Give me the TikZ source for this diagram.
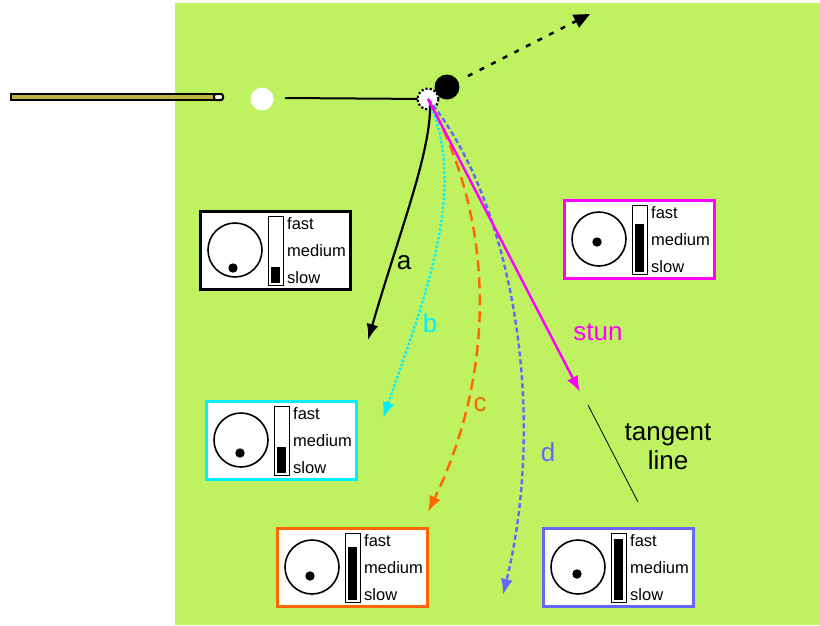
\documentclass[tikz,border=0pt]{standalone}
\usepackage{fontspec}
\setmainfont{Liberation Sans}
\usetikzlibrary{arrows.meta}
\definecolor{felt}{RGB}{190,242,96}
\definecolor{cue}{RGB}{190,178,62}
\definecolor{cyanb}{RGB}{0,240,255}
\definecolor{orangeb}{RGB}{255,102,0}
\definecolor{blueb}{RGB}{102,102,255}
\definecolor{magb}{RGB}{255,0,255}
\tikzset{
  lbl/.style={font=\fontsize{26}{28}\selectfont, inner sep=0pt},
  small/.style={font=\fontsize{16.5}{17}\selectfont, inner sep=0pt, anchor=west},
  tip/.style={-{Latex[length=16pt,width=12pt]}},
}
\newcommand\spinbox[6]{%
  \begin{scope}[shift={(#1,#2)}]
    \node[draw=#3, line width=2.5pt, fill=white, minimum width=150pt, minimum height=78pt, anchor=north west, inner sep=0pt] (#6) at (0,0) {};
    \draw[line width=1.6pt] (36,40) circle (27pt);
    \fill (#4) circle (4.7pt);
    \draw[line width=0.8pt, fill=white] (69,6) rectangle (84,75);
    \fill (72,#5) rectangle (81,73);
    \node[small] at (88,14) {fast};
    \node[small] at (88,41) {medium};
    \node[small] at (88,68) {slow};
  \end{scope}}
\begin{document}
\begin{tikzpicture}[x=1pt,y=-1pt]
\useasboundingbox (0,0) rectangle (820,625);
\fill[felt] (175,3) rectangle (820,625);
% cue
\draw[line width=2pt, fill=cue] (11,94) rectangle (214,100);
\draw[line width=2pt, fill=white, rounded corners=2pt] (214,94) -- (223,94) -- (223,100) -- (214,100) -- cycle;
\node[circle, fill=white, minimum size=23pt, inner sep=0pt] (cb) at (262,99) {};
\node[circle, fill=black, minimum size=25pt, inner sep=0pt] (ob) at (447,87) {};
\coordinate (g) at (428,99);
\draw[line width=2pt] (285,98) -- (g);
\node[circle, draw, dotted, line width=2.2pt, fill=white, minimum size=21pt, inner sep=0pt] (gh) at (g) {};
\coordinate (obend) at (590,14);
\draw[line width=2.5pt, dash pattern=on 5pt off 8pt, -{Triangle[length=16pt,width=14pt]}] (468,76) -- (obend);
% paths
\coordinate (ea) at (368,340);
\coordinate (eb) at (383,418);
\coordinate (ec) at (428,512);
\coordinate (ed) at (503,595);
\coordinate (es) at (580,392);
\draw[line width=2.2pt, tip] (430,102) .. controls (432,150) and (400,230) .. (ea);
\draw[cyanb, line width=2.4pt, dotted, tip] (g) .. controls (468,185) and (428,290) .. (eb);
\draw[orangeb, line width=2.4pt, dash pattern=on 11pt off 6pt, tip] (g) .. controls (500,230) and (492,380) .. (ec);
\draw[blueb, line width=2.4pt, dash pattern=on 5pt off 3pt, tip] (g) .. controls (512,200) and (548,410) .. (ed);
\draw[magb, line width=2.4pt, tip] (g) -- (es);
\coordinate (t1) at (588,405);
\coordinate (t2) at (638,502);
\draw[line width=0.8pt] (t1) -- (t2);
% labels
\node[lbl] at (404,263) {a};
\node[lbl, text=cyanb] at (430,323) {b};
\node[lbl, text=orangeb] at (480,405) {c};
\node[lbl, text=blueb] at (548,452) {d};
\node[lbl, text=magb] at (598,332) {stun};
\node[lbl, align=center] at (668,447) {tangent\\[1pt]line};
% boxes
\spinbox{199}{210}{black}{34,58}{57}{b1}
\spinbox{563}{199}{magb}{34,43}{25}{b2}
\spinbox{205}{400}{cyanb}{35,53}{47}{b3}
\spinbox{276}{527}{orangeb}{34,49}{20}{b4}
\spinbox{542}{527}{blueb}{35,47}{12}{b5}
\end{tikzpicture}
\end{document}
